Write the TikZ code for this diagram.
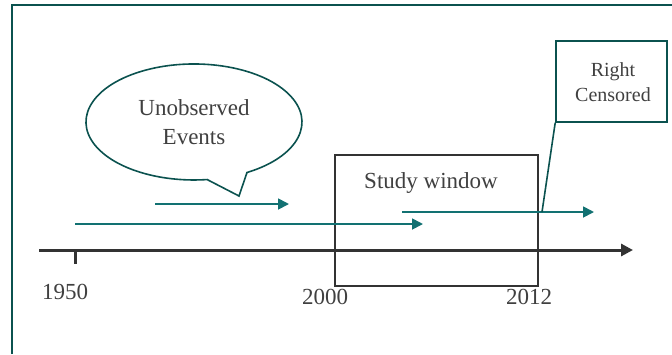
\documentclass[tikz,border=0pt]{standalone}
\usepackage{fontspec}
\setmainfont{Liberation Serif}
\usetikzlibrary{arrows.meta}
\definecolor{frameteal}{HTML}{0B524F}
\definecolor{arrteal}{HTML}{127172}
\definecolor{txtgray}{HTML}{404040}
\definecolor{axgray}{HTML}{333333}
\tikzset{
  lbl/.style={text=txtgray, inner sep=0pt, font=\fontsize{23}{27}\selectfont},
  tarrow/.style={draw=arrteal, line width=1.8pt, -{Triangle[length=11pt,width=11pt]}},
}
\begin{document}
\begin{tikzpicture}[x=1pt,y=-1pt]
\useasboundingbox (0,0) rectangle (672,354);
% outer frame
\draw[frameteal, line width=2.6pt] (12,354) -- (12,5) -- (672,5);
% axis
\coordinate (axS) at (39,250);
\coordinate (axE) at (633,250);
\draw[axgray, line width=3pt, -{Triangle[length=12pt,width=12pt]}] (axS) -- (axE);
\coordinate (t1) at (75,250);
\coordinate (t1b) at (75,264);
\draw[axgray, line width=3pt] (t1) -- (t1b);
% study window
\node[draw=axgray, line width=2.6pt, minimum width=203pt, minimum height=131pt, inner sep=0pt] (study) at (436.5,220.5) {};
\node[lbl] (sw) at (431,183) {Study window};
% year labels
\node[lbl] (y1950) at (65,292) {1950};
\node[lbl] (y2000) at (325,297) {2000};
\node[lbl] (y2012) at (529,297) {2012};
% arrows
\coordinate (a1s) at (155,204); \coordinate (a1e) at (289,204);
\coordinate (a2s) at (75,224); \coordinate (a2e) at (423,224);
\coordinate (a3s) at (402,212); \coordinate (a3e) at (594,212);
\draw[tarrow] (a1s) -- (a1e);
\draw[tarrow] (a2s) -- (a2e);
\draw[tarrow] (a3s) -- (a3e);
% callout ellipse
\coordinate (tip) at (239,196);
\draw[frameteal, line width=1.6pt, line join=miter]
  (247,172.5) arc[start angle=60.6, end angle=-277, x radius=108, y radius=58] -- (tip) -- cycle;
\node[lbl, align=center] (ue) at (194,122) {Unobserved\\[2pt]Events};
% right censored
\node[draw=frameteal, line width=1.6pt, minimum width=111pt, minimum height=81pt, inner sep=0pt] (rc) at (611.5,81.5) {};
\node[lbl, align=center, font=\fontsize{20}{25}\selectfont] (rct) at (613,82.5) {Right\\Censored};
\coordinate (rcp) at (542,212);
\draw[frameteal, line width=1.6pt] (rc.south west) -- (rcp);
\end{tikzpicture}
\end{document}
